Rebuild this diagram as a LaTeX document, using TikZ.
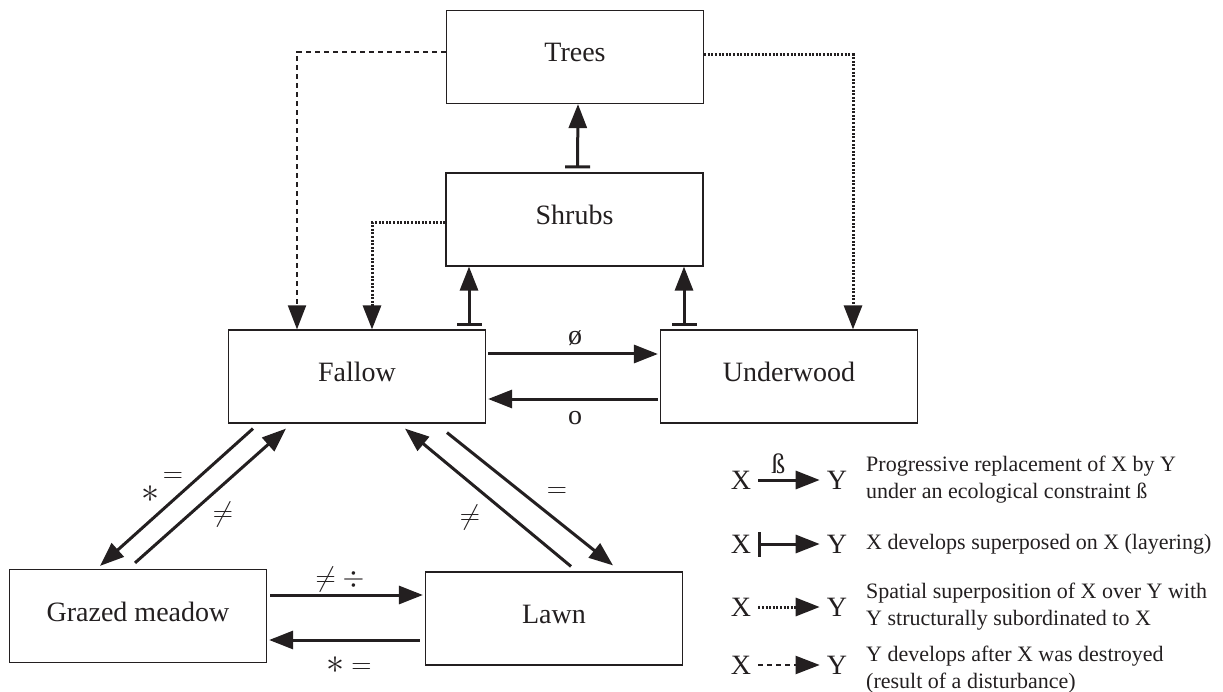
\documentclass[tikz,border=0pt]{standalone}
\usepackage{fix-cm}
\usepackage{fontspec}
\setmainfont{Liberation Serif}
\usetikzlibrary{arrows.meta}
\definecolor{ink}{RGB}{35,31,32}
\newcommand{\bigast}{{\fontsize{36}{40}\selectfont$\ast$}}

\begin{document}
\begin{tikzpicture}[x=1pt, y=-1pt, color=ink,
  box/.style={draw=ink, line width=1.2pt, minimum width=257pt, minimum height=93pt,
    inner sep=0pt, text height=20pt, text depth=10pt, font=\fontsize{28}{32}\selectfont},
  tri/.tip={Triangle[length=24pt,width=18pt]},
  repl/.style={line width=3pt, -tri},
  layering/.style={line width=3pt, {Bar[width=25pt]}-tri},
  superpose/.style={line width=3pt, dash pattern=on 2pt off 1.6pt, -tri},
  disturb/.style={line width=2pt, dash pattern=on 5pt off 4pt, -tri},
  lab/.style={font=\fontsize{28}{32}\selectfont, inner sep=0pt},
  legtext/.style={font=\fontsize{22}{27}\selectfont, align=left, anchor=west, inner sep=0pt},
]
\useasboundingbox (0,0) rectangle (1223,692);

% vegetation states
\node[box] (trees)  at (575,57)    {Trees};
\node[box] (shrubs) at (574.5,219.5) {Shrubs};
\node[box] (fallow) at (357,376.5) {Fallow};
\node[box] (under)  at (789,376.5) {Underwood};
\node[box] (grazed) at (138,616)   {Grazed meadow};
\node[box] (lawn)   at (554,618.5) {Lawn};

% disturbance and spatial superposition links
\draw[disturb]   ([yshift=5pt]trees.west)    -| ([xshift=-60pt]fallow.north);
\draw[superpose] ([yshift=-3.5pt]shrubs.west) -| ([xshift=15pt]fallow.north);
\draw[superpose] ([yshift=2pt]trees.east)    -| ([xshift=64pt]under.north);

% layering links
\draw[layering] ([xshift=3pt,yshift=4pt]shrubs.north) -- ([xshift=3pt]trees.south);
\coordinate (fs) at ([xshift=112pt]fallow.north);
\coordinate (us) at ([xshift=-105pt]under.north);
\draw[layering] ([yshift=3pt]fs) -- (fs |- shrubs.south);
\draw[layering] ([yshift=3pt]us) -- (us |- shrubs.south);

% progressive replacements
\draw[repl, shorten <=2pt, shorten >=2pt] ([yshift=22.5pt]fallow.east) -- ([yshift=22.5pt]under.west)
  node[lab, midway, shift={(2,-16)}] {ø};
\draw[repl, shorten <=2pt, shorten >=2pt] ([yshift=-22.5pt]under.west) -- ([yshift=-22.5pt]fallow.east)
  node[lab, midway, shift={(2,19)}] {o};
\draw[repl, shorten <=3pt, shorten >=2pt] ([yshift=21pt]grazed.east) -- ([yshift=23.5pt]lawn.west)
  node[lab, midway, shift={(-6,-16)}] {$\neq$ $\div$};
\draw[repl, shorten <=5pt, shorten >=2pt] ([yshift=-21.5pt]lawn.west) -- ([yshift=-24pt]grazed.east)
  node[lab, midway, shift={(3,25)}] {\bigast{} $=$};

\draw[repl] ([xshift=-104pt,yshift=-5pt]fallow.south) -- ([xshift=-38pt,yshift=3pt]grazed.north)
  node[lab, pos=0.448, shift={(-11.4,-12.8)}] {$=$}
  node[lab, pos=0.586, shift={(-13.3,-14.9)}] {\bigast};
\draw[repl] ([xshift=-3pt,yshift=6pt]grazed.north) -- ([xshift=-71pt,yshift=-5pt]fallow.south)
  node[lab, midway, shift={(12.5,18.5)}] {$\neq$};
\draw[repl] ([xshift=17pt,yshift=5pt]lawn.north) -- ([xshift=48pt,yshift=-5pt]fallow.south)
  node[lab, midway, shift={(-18,19.5)}] {$\neq$};
\draw[repl] ([xshift=90pt,yshift=-9pt]fallow.south) -- ([xshift=59pt,yshift=6pt]lawn.north)
  node[lab, midway, shift={(27,-6)}] {$=$};

% key
\node[lab] (x1) at (741,480) {X};
\node[lab] (y1) at (837,480) {Y};
\draw[repl, shorten <=7pt, shorten >=7pt] (x1.east) -- (y1.west)
  node[lab, pos=0.36, shift={(0,-16)}] {ß};
\node[legtext] (t1) at (866,480) {Progressive replacement of X by Y\\under an ecological constraint ß};

\node[lab] (x2) at (741,544) {X};
\node[lab] (y2) at (837,544) {Y};
\draw[layering, shorten <=7pt, shorten >=7pt] (x2.east) -- (y2.west);
\node[legtext] (t2) at (866,544) {X develops superposed on X (layering)};

\node[lab] (x3) at (741,607) {X};
\node[lab] (y3) at (837,607) {Y};
\draw[superpose, shorten <=7pt, shorten >=7pt] (x3.east) -- (y3.west);
\node[legtext] (t3) at (866,607) {Spatial superposition of X over Y with\\Y structurally subordinated to X};

\node[lab] (x4) at (741,665) {X};
\node[lab] (y4) at (837,665) {Y};
\draw[disturb, shorten <=7pt, shorten >=7pt] (x4.east) -- (y4.west);
\node[legtext] (t4) at (866,670) {Y develops after X was destroyed\\(result of a disturbance)};
\end{tikzpicture}
\end{document}
